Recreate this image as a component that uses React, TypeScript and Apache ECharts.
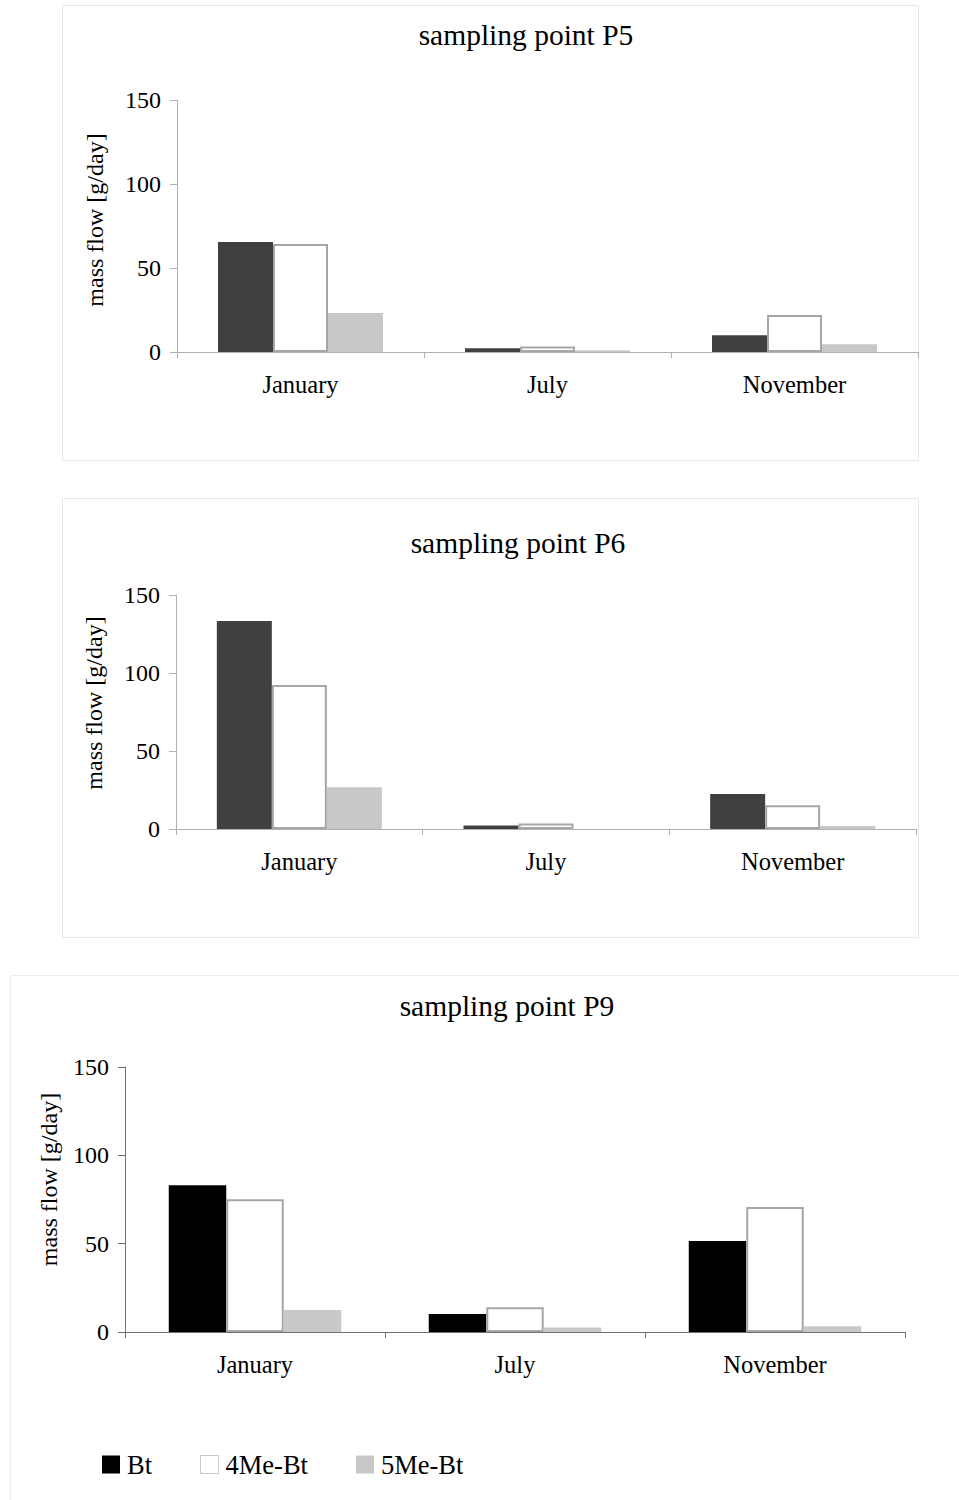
import React, { useEffect, useRef } from "react";
import * as echarts from "echarts";

const categories = ["January", "July", "November"];
const seriesNames = ["Bt", "4Me-Bt", "5Me-Bt"];
const yTicks = [0, 50, 100, 150];

const p5Bt = [65.5, 2.3, 10];
const p5Me4 = [64.3, 3.3, 22];
const p5Me5 = [23.2, 1.0, 4.6];

const p6Bt = [133.3, 2.2, 22.4];
const p6Me4 = [92.3, 3.5, 15.2];
const p6Me5 = [26.7, 0, 2];

const p9Bt = [83, 10.2, 51.5];
const p9Me4 = [75.1, 14, 70.7];
const p9Me5 = [12.5, 2.5, 3.2];

const titles = ["sampling point P5", "sampling point P6", "sampling point P9"];
const yName = "mass flow [g/day]";

const FONT = "Liberation Serif";

export default function App() {
  const ref = useRef<HTMLDivElement>(null);
  useEffect(() => {
    if (!ref.current) return;
    const chart = echarts.init(ref.current, undefined, { renderer: "svg" });

    const panels = [
      { data: [p5Bt, p5Me4, p5Me5], grid: { left: 177, top: 100, width: 741, height: 252 }, btColor: "#404040", axisColor: "#b0b0b0", barWidth: 55, nameGap: 70, namePad: 12 },
      { data: [p6Bt, p6Me4, p6Me5], grid: { left: 176, top: 595, width: 740, height: 234 }, btColor: "#404040", axisColor: "#b0b0b0", barWidth: 55, nameGap: 70, namePad: 18 },
      { data: [p9Bt, p9Me4, p9Me5], grid: { left: 125, top: 1067, width: 780, height: 265 }, btColor: "#000000", axisColor: "#707070", barWidth: 57.5, nameGap: 64, namePad: 40 },
    ];

    const grids = panels.map((p) => p.grid);
    const xAxes = panels.map((p, i) => ({
      type: "category",
      gridIndex: i,
      data: categories,
      boundaryGap: true,
      axisLine: { lineStyle: { color: p.axisColor, width: 1 } },
      axisTick: { show: true, length: 6, alignWithLabel: false, interval: 0, lineStyle: { color: p.axisColor } },
      axisLabel: { color: "#000", fontFamily: FONT, fontSize: 24.5, margin: 20 },
    }));
    const yAxes = panels.map((p, i) => ({
      type: "value",
      gridIndex: i,
      min: 0,
      max: 150,
      interval: 50,
      name: yName,
      nameLocation: "middle",
      nameGap: p.nameGap,
      nameTextStyle: { color: "#000", fontFamily: FONT, fontSize: 24, padding: [0, 0, 0, p.namePad] },
      splitLine: { show: false },
      axisLine: { show: true, lineStyle: { color: p.axisColor, width: 1 } },
      axisTick: { show: true, length: 7, lineStyle: { color: p.axisColor } },
      axisLabel: {
        color: "#000",
        fontFamily: FONT,
        fontSize: 24,
        margin: 16,
        formatter: (v: number) => (yTicks.includes(v) ? String(v) : ""),
      },
    }));

    const series: any[] = [];
    panels.forEach((p, i) => {
      const styles = [
        { color: p.btColor },
        { color: "#ffffff", borderColor: "#a6a6a6", borderWidth: 2 },
        { color: "#c8c8c8" },
      ];
      seriesNames.forEach((name, k) => {
        series.push({
          type: "bar",
          name,
          xAxisIndex: i,
          yAxisIndex: i,
          data: p.data[k],
          barWidth: p.barWidth,
          barGap: "0%",
          itemStyle: styles[k],
          emphasis: { disabled: true },
        });
      });
    });

    const titleOpts = [
      { text: titles[0], left: 521, top: 15 },
      { text: titles[1], left: 513, top: 523 },
      { text: titles[2], left: 502, top: 986 },
    ].map((t) => ({
      text: t.text,
      left: t.left,
      top: t.top,
      textAlign: "center",
      textStyle: { fontFamily: FONT, fontSize: 29.5, fontWeight: "normal", color: "#000" },
    }));

    chart.setOption({
      animation: false,
      backgroundColor: "#ffffff",
      title: titleOpts,
      grid: grids,
      xAxis: xAxes,
      yAxis: yAxes,
      series,
      legend: {
        left: 97,
        top: 1446,
        icon: "rect",
        itemWidth: 18,
        itemHeight: 18,
        itemGap: 48,
        selectedMode: false,
        textStyle: { fontFamily: FONT, fontSize: 26.5, color: "#000", padding: [0, 0, 0, 2] },
        data: [
          { name: "Bt", itemStyle: { color: "#000000", borderWidth: 0 } },
          { name: "4Me-Bt", itemStyle: { color: "#ffffff", borderColor: "#c8c8c8", borderWidth: 1 } },
          { name: "5Me-Bt", itemStyle: { color: "#c8c8c8", borderWidth: 0 } },
        ],
      },
      graphic: [
        { type: "rect", silent: true, z: -1, shape: { x: 62.5, y: 5.5, width: 856, height: 455 }, style: { fill: "none", stroke: "#e6e6e6", lineWidth: 1 } },
        { type: "rect", silent: true, z: -1, shape: { x: 62.5, y: 498.5, width: 856, height: 439 }, style: { fill: "none", stroke: "#e6e6e6", lineWidth: 1 } },
        { type: "rect", silent: true, z: -1, shape: { x: 10.5, y: 975.5, width: 960, height: 540 }, style: { fill: "none", stroke: "#ececec", lineWidth: 1 } },
      ],
    });

    return () => chart.dispose();
  }, []);

  return (
    <div
      ref={ref}
      style={{ position: "absolute", left: 0, top: 0, width: 959, height: 1500, background: "#fff" }}
    />
  );
}
